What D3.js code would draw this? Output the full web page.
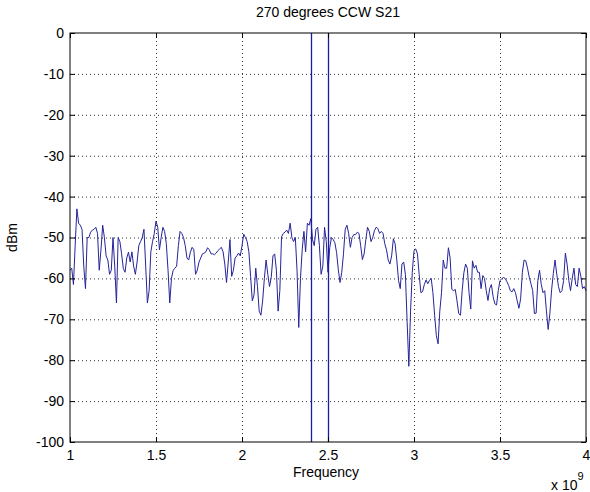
<!DOCTYPE html>
<html><head><meta charset="utf-8">
<script src="https://cdn.jsdelivr.net/npm/d3@7"></script>
<style>
body{margin:0;background:#fff;}
svg{display:block;font-family:"Liberation Sans",Arial,Helvetica,sans-serif;}
</style></head><body>
<svg id="chart" width="590" height="492"></svg>
<script>
// ---- data ----
const chartTitle = "270 degrees CCW S21";
const xLabel = "Frequency";
const yLabel = "dBm";
const xTickValues = [1, 1.5, 2, 2.5, 3, 3.5, 4];          // x 10^9 Hz
const yTickValues = [0, -10, -20, -30, -40, -50, -60, -70, -80, -90, -100];
const freqStartGHz = 1.0;     // sweep start
const freqStepGHz = 0.01;     // sweep step
const markerGHz = [2.4, 2.5]; // vertical marker lines
const s21dBm = [
  -58, -57.5, -61.5, -52, -43, -46.5, -47, -48, -57, -62.5,
  -50, -50, -48.7, -48.2, -48, -47.5, -49, -58, -53, -47,
  -50, -54.5, -55.5, -59, -58, -50, -57, -66, -50, -51,
  -54, -57.6, -58.5, -55, -53.6, -56, -53.5, -57, -59, -56,
  -52, -51, -50, -48, -57, -66, -63, -53.5, -51, -49,
  -46, -47.5, -53, -50, -47.5, -48.5, -51.5, -58, -66, -60,
  -58, -57.5, -57, -52, -48.5, -49, -50, -52, -55, -55.5,
  -53.6, -52.4, -53, -59, -58, -56, -55, -54, -53.8, -53.5,
  -52.5, -53, -54, -54, -54.2, -53.8, -53.2, -52.8, -52.4, -53.5,
  -56.5, -61, -56, -50.5, -59.5, -58, -55, -54.5, -53.8, -54.5,
  -52, -49.2, -50, -51, -53.5, -59.5, -65.5, -64, -57.5, -62,
  -68, -69, -65.5, -60, -55.5, -59, -62, -59.8, -54.5, -54,
  -58, -68, -63, -49.8, -49, -48.7, -48.2, -49, -46.5, -50,
  -51, -50, -58, -72, -60, -53, -48.5, -53.5, -46.5, -47,
  -45.4, -50.5, -52, -48, -47.5, -52, -59, -57, -47.5, -51,
  -58.5, -52.5, -50, -50.5, -51.3, -53.7, -57.9, -61, -58.5, -54,
  -48, -47, -49, -52.4, -50, -49.3, -49.3, -48.7, -49, -52,
  -55.4, -54, -50.5, -47.5, -48.5, -51, -50, -48.3, -47.5, -47.8,
  -49, -48.5, -49, -51.5, -53, -55.5, -56.5, -54.5, -50.3, -51.5,
  -55.5, -60.5, -62.5, -56.5, -56, -59, -70.5, -81.5, -68, -58.5,
  -53.2, -52.8, -54, -59, -63.5, -63.2, -61.5, -60.4, -61.3, -60.5,
  -60, -63.5, -69, -74, -76, -68, -63.5, -55.5, -57.5, -57.5,
  -52.5, -55, -62.7, -63, -62.7, -65.5, -68.6, -69, -63, -58.6,
  -56.5, -57.5, -63.5, -67.5, -55.7, -57.5, -56.8, -58.5, -58.5, -62.5,
  -59.3, -60, -63, -65.4, -62.5, -61.5, -64.5, -66.2, -66.5, -63,
  -60.5, -60.1, -59.8, -60, -60.8, -61.7, -63, -63.3, -62.5, -63.5,
  -65.5, -67.3, -65, -58.5, -55.5, -55.7, -57.5, -59.7, -61.3, -63,
  -68.6, -68.5, -60.5, -58, -61.5, -63.5, -63, -68, -72.5, -68.5,
  -62.8, -58.8, -55.5, -59, -62, -63.5, -63, -60.5, -53.8, -56.5,
  -60.5, -63, -60, -57.5, -61.5, -62, -57.5, -59.5, -62.5, -62,
  -63
];

// ---- chart ----
const W = 590, H = 492;
const plot = {left: 70, top: 33, right: 586, bottom: 442};
const svg = d3.select("#chart");
svg.append("rect").attr("width", W).attr("height", H).attr("fill", "#fff");

const x = d3.scaleLinear().domain([1, 4]).range([plot.left, plot.right]);
const y = d3.scaleLinear().domain([-100, 0]).range([plot.bottom, plot.top]);

const lineColor = "#24249a";
const fontSize = 14;

// grid (dotted)
const gridX = svg.append("g").attr("transform", `translate(0,${plot.bottom})`)
  .call(d3.axisBottom(x).tickValues(xTickValues.slice(1, -1))
    .tickSize(-(plot.bottom - plot.top)).tickFormat(""));
gridX.select(".domain").remove();
gridX.selectAll("line").attr("stroke", "#333").attr("stroke-dasharray", "1,3");
const gridY = svg.append("g").attr("transform", `translate(${plot.left},0)`)
  .call(d3.axisLeft(y).tickValues(yTickValues.slice(1, -1))
    .tickSize(-(plot.right - plot.left)).tickFormat(""));
gridY.select(".domain").remove();
gridY.selectAll("line").attr("stroke", "#333").attr("stroke-dasharray", "1,3");

// data line
const pts = s21dBm.map((v, i) => ({f: freqStartGHz + i * freqStepGHz, v}));
svg.append("path").datum(pts)
  .attr("fill", "none").attr("stroke", lineColor).attr("stroke-width", 1)
  .attr("stroke-linejoin", "round")
  .attr("d", d3.line().x(d => x(d.f)).y(d => y(d.v)));

// marker lines
svg.selectAll("line.marker").data(markerGHz).join("line")
  .attr("class", "marker")
  .attr("x1", d => Math.round(x(d)) + 0.5).attr("x2", d => Math.round(x(d)) + 0.5)
  .attr("y1", y(0)).attr("y2", y(-100))
  .attr("stroke", "#1a1aa6").attr("stroke-width", 1.3);

// axes with inward ticks
const fmt = d => String(d);
const axB = svg.append("g").attr("transform", `translate(0,${plot.bottom})`)
  .call(d3.axisBottom(x).tickValues(xTickValues).tickSize(-5).tickPadding(8).tickFormat(fmt));
const axT = svg.append("g").attr("transform", `translate(0,${plot.top})`)
  .call(d3.axisTop(x).tickValues(xTickValues).tickSize(-5).tickFormat(""));
const axL = svg.append("g").attr("transform", `translate(${plot.left},0)`)
  .call(d3.axisLeft(y).tickValues(yTickValues).tickSize(-5).tickPadding(6).tickFormat(fmt));
const axR = svg.append("g").attr("transform", `translate(${plot.right},0)`)
  .call(d3.axisRight(y).tickValues(yTickValues).tickSize(-5).tickFormat(""));
[axB, axT, axL, axR].forEach(g => {
  g.select(".domain").remove();
  g.selectAll("line").attr("stroke", "#000");
  g.selectAll("text").attr("fill", "#000").style("font-size", fontSize + "px")
    .style("font-family", '"Liberation Sans",Arial,sans-serif');
});

// box
svg.append("rect").attr("x", plot.left).attr("y", plot.top)
  .attr("width", plot.right - plot.left).attr("height", plot.bottom - plot.top)
  .attr("fill", "none").attr("stroke", "#000").attr("stroke-width", 1);

// title and labels
svg.append("text").attr("x", (plot.left + plot.right) / 2).attr("y", 17)
  .attr("text-anchor", "middle").style("font-size", fontSize + "px").text(chartTitle);
svg.append("text").attr("x", 326).attr("y", 477)
  .attr("text-anchor", "middle").style("font-size", fontSize + "px").text(xLabel);
svg.append("text").attr("transform", `translate(17,${(plot.top + plot.bottom) / 2}) rotate(-90)`)
  .attr("text-anchor", "middle").style("font-size", fontSize + "px").text(yLabel);
const mult = svg.append("text").attr("x", 551).attr("y", 490).style("font-size", fontSize + "px");
mult.append("tspan").text("x 10");
mult.append("tspan").attr("dy", -10).style("font-size", "11px").text("9");
</script>
</body></html>
